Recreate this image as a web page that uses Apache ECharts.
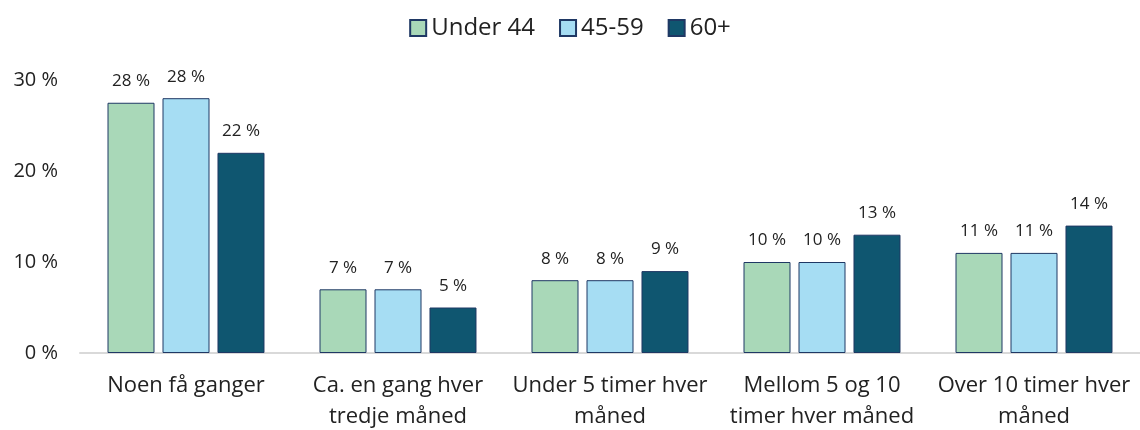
<!DOCTYPE html>
<html>
<head>
<meta charset="utf-8">
<script src="https://cdn.jsdelivr.net/npm/echarts@6/dist/echarts.min.js"></script>
<style>
html, body { margin: 0; padding: 0; background: #fff; }
#chart { width: 1140px; height: 430px; }
</style>
</head>
<body>
<div id="chart"></div>
<script>
// data
var categories = ['Noen få ganger', 'Ca. en gang hver\ntredje måned', 'Under 5 timer hver\nmåned', 'Mellom 5 og 10\ntimer hver måned', 'Over 10 timer hver\nmåned'];
var seriesNames = ['Under 44', '45-59', '60+'];
var under44 = [27.5, 7, 8, 10, 11];
var age45to59 = [28, 7, 8, 10, 11];
var age60plus = [22, 5, 9, 13, 14];
var yTicks = [0, 10, 20, 30];

var colors = ['#A9D8B8', '#A6DDF3', '#0F5670'];
var font = '"Open Sans", "Noto Sans", sans-serif';

function makeSeries(name, data, color) {
    return {
        name: name,
        type: 'bar',
        data: data,
        barWidth: 47,
        barGap: '17%',
        itemStyle: { color: color, borderColor: '#1F3864', borderWidth: 1 },
        label: {
            show: true,
            position: 'top',
            distance: 13,
            color: '#222',
            fontSize: 17,
            fontFamily: font,
            formatter: function (p) { return Math.round(p.value) + ' %'; }
        }
    };
}

var chart = echarts.init(document.getElementById('chart'));
chart.setOption({
    animation: false,
    color: colors,
    legend: {
        top: 11,
        left: 'center',
        icon: 'rect',
        itemWidth: 16,
        itemHeight: 16,
        itemGap: 24,
        textStyle: { fontSize: 24, color: '#222', fontFamily: font },
        data: seriesNames
    },
    grid: { left: 80, right: 0, top: 80, bottom: 77, outerBoundsMode: 'none' },
    xAxis: {
        type: 'category',
        data: categories,
        axisLine: { lineStyle: { color: '#D9D9D9', width: 2 } },
        axisTick: { show: false },
        axisLabel: {
            interval: 0,
            margin: 17,
            color: '#222',
            fontSize: 22,
            lineHeight: 31,
            fontFamily: font
        }
    },
    yAxis: {
        type: 'value',
        min: yTicks[0],
        max: yTicks[yTicks.length - 1],
        interval: 10,
        splitLine: { show: false },
        axisLine: { show: false },
        axisTick: { show: false },
        axisLabel: {
            margin: 22,
            color: '#222',
            fontSize: 20,
            fontFamily: font,
            formatter: '{value} %'
        }
    },
    series: [
        makeSeries(seriesNames[0], under44, colors[0]),
        makeSeries(seriesNames[1], age45to59, colors[1]),
        makeSeries(seriesNames[2], age60plus, colors[2])
    ]
});
</script>
</body>
</html>
